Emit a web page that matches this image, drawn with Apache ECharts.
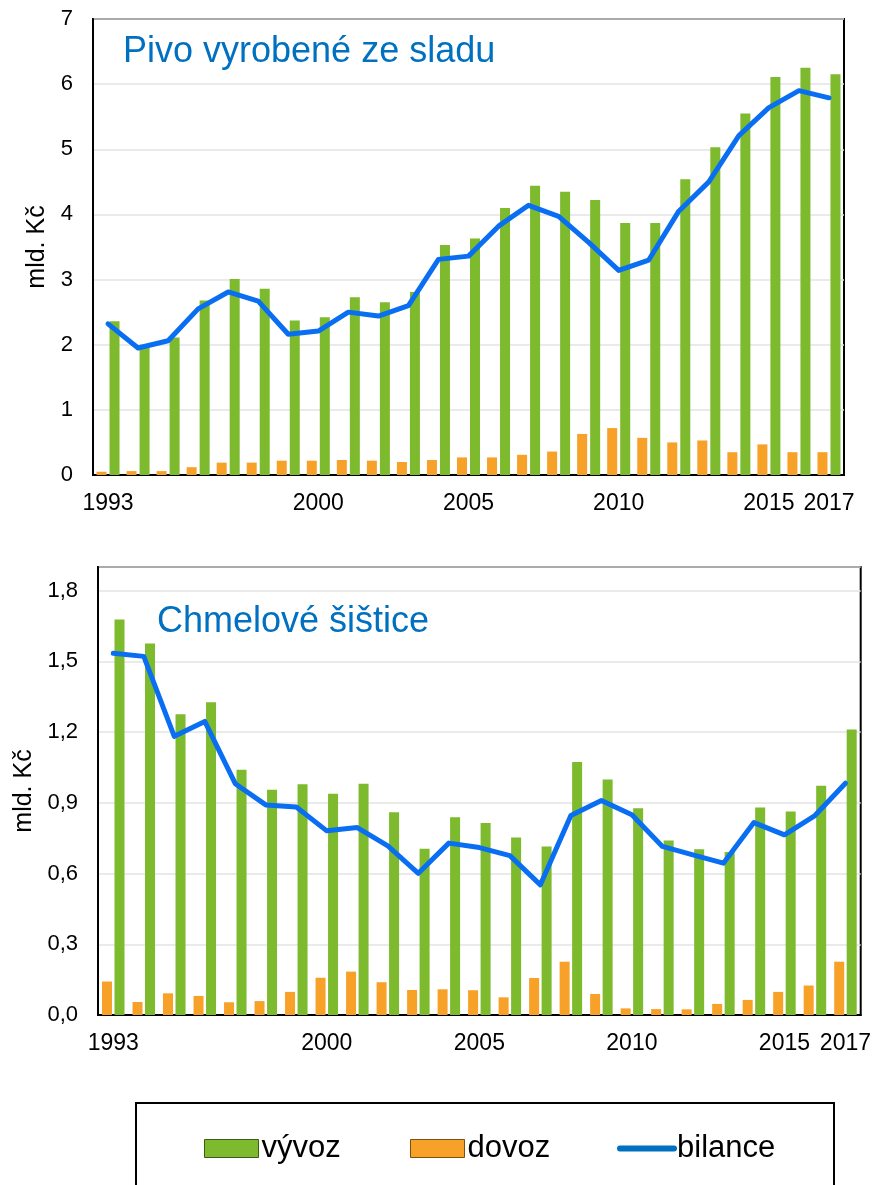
<!DOCTYPE html>
<html>
<head>
<meta charset="utf-8">
<script src="https://cdn.jsdelivr.net/npm/echarts@6/dist/echarts.min.js"></script>
<style>
  html, body { margin: 0; padding: 0; background: #fff; }
  #chart { width: 874px; height: 1185px; }
</style>
</head>
<body>
<div id="chart"></div>
<script>
var years = ['1993', '1994', '1995', '1996', '1997', '1998', '1999', '2000', '2001', '2002', '2003', '2004', '2005',
  '2006', '2007', '2008', '2009', '2010', '2011', '2012', '2013', '2014', '2015', '2016', '2017'];
var shownYears = ['1993', '2000', '2005', '2010', '2015', '2017'];

// Pivo vyrobené ze sladu (mld. Kč)
var pivoVyvoz = [2.36, 2.00, 2.11, 2.68, 3.01, 2.86, 2.37, 2.42, 2.73, 2.65, 2.81, 3.53, 3.63,
  4.10, 4.44, 4.35, 4.22, 3.87, 3.87, 4.54, 5.03, 5.55, 6.11, 6.25, 6.15];
var pivoDovoz = [0.05, 0.06, 0.06, 0.12, 0.19, 0.19, 0.22, 0.22, 0.23, 0.22, 0.20, 0.23, 0.27,
  0.27, 0.31, 0.36, 0.63, 0.72, 0.57, 0.50, 0.53, 0.35, 0.47, 0.35, 0.35];
var pivoBilance = [2.32, 1.95, 2.06, 2.55, 2.81, 2.67, 2.16, 2.21, 2.50, 2.44, 2.60, 3.31, 3.36,
  3.82, 4.14, 3.97, 3.57, 3.14, 3.30, 4.05, 4.50, 5.21, 5.64, 5.90, 5.79];

// Chmelové šištice (mld. Kč)
var chmelVyvoz = [1.677, 1.576, 1.276, 1.326, 1.040, 0.955, 0.979, 0.938, 0.981, 0.860, 0.705, 0.839, 0.814,
  0.753, 0.715, 1.073, 0.999, 0.877, 0.740, 0.703, 0.691, 0.880, 0.863, 0.972, 1.211];
var chmelDovoz = [0.142, 0.055, 0.092, 0.081, 0.054, 0.059, 0.098, 0.158, 0.184, 0.139, 0.106, 0.109, 0.105,
  0.075, 0.157, 0.226, 0.089, 0.028, 0.025, 0.024, 0.047, 0.064, 0.098, 0.125, 0.226];
var chmelBilance = [1.534, 1.521, 1.182, 1.245, 0.981, 0.891, 0.882, 0.781, 0.795, 0.717, 0.601, 0.729, 0.710,
  0.676, 0.552, 0.846, 0.910, 0.849, 0.715, 0.679, 0.644, 0.816, 0.764, 0.846, 0.983];

var titles = ['Pivo vyrobené ze sladu', 'Chmelové šištice'];
var legendNames = ['vývoz', 'dovoz', 'bilance'];

var FONT = 'Liberation Sans, Arial, sans-serif';
var GREEN = '#7DBA2D';
var ORANGE = '#F7A128';
var BLUE = '#0A6EF2';

function xAxisFor(idx) {
  return {
    type: 'category',
    gridIndex: idx,
    data: years,
    axisTick: { show: false },
    axisLine: { lineStyle: { color: '#000', width: 2 } },
    axisLabel: {
      interval: 0,
      margin: 17,
      color: '#000',
      fontFamily: FONT,
      fontSize: 23,
      formatter: function (v) { return shownYears.indexOf(v) >= 0 ? v : ''; }
    }
  };
}

function yAxisFor(idx, max, interval, decimals, gap) {
  return {
    type: 'value',
    gridIndex: idx,
    min: 0,
    max: max,
    interval: interval,
    name: 'mld. Kč',
    nameLocation: 'middle',
    nameGap: gap,
    nameRotate: 90,
    nameTextStyle: { color: '#000', fontFamily: FONT, fontSize: 25 },
    axisLine: { show: true, lineStyle: { color: '#000', width: 2 } },
    axisTick: { show: false },
    axisLabel: {
      margin: 20,
      color: '#000',
      fontFamily: FONT,
      fontSize: 22,
      formatter: function (v) {
        var k = Math.round(v / interval);
        if (Math.abs(k * interval - v) > 1e-6) return '';
        return v.toFixed(decimals).replace('.', ',');
      }
    },
    splitLine: { lineStyle: { color: '#e3e3e3', width: 1.5 } }
  };
}

function seriesFor(idx, vyvoz, dovoz, bilance, gap) {
  return [
    {
      name: 'dovoz', type: 'bar', xAxisIndex: idx, yAxisIndex: idx,
      data: dovoz, barWidth: 10, barGap: gap,
      itemStyle: { color: ORANGE }
    },
    {
      name: 'vývoz', type: 'bar', xAxisIndex: idx, yAxisIndex: idx,
      data: vyvoz, barWidth: 10, barGap: gap,
      itemStyle: { color: GREEN }
    },
    {
      name: 'bilance', type: 'line', xAxisIndex: idx, yAxisIndex: idx,
      data: bilance, symbol: 'none', z: 5,
      lineStyle: { color: BLUE, width: 5, cap: 'round', join: 'round' },
      itemStyle: { color: BLUE }
    }
  ];
}

// one legend per entry so each sits where the reference has it
function legendFor(item, left) {
  return {
    left: left,
    top: 1133,
    padding: 0,
    itemWidth: 54,
    itemHeight: 18,
    textStyle: { color: '#000', fontFamily: FONT, fontSize: 31, padding: [0, 0, 0, -2] },
    data: [item]
  };
}

var myChart = echarts.init(document.getElementById('chart'), null, { renderer: 'canvas' });

var option = {
  animation: false,
  backgroundColor: '#fff',
  title: [
    { text: titles[0], left: 118, top: 29, textStyle: { color: '#0070C0', fontFamily: FONT, fontSize: 36, fontWeight: 'normal' } },
    { text: titles[1], left: 152, top: 599, textStyle: { color: '#0070C0', fontFamily: FONT, fontSize: 36, fontWeight: 'normal' } }
  ],
  grid: [
    { left: 93, right: 30, top: 19, height: 456, show: true, borderColor: '#000', borderWidth: 2, backgroundColor: 'transparent' },
    { left: 98, right: 12, top: 567, height: 448, show: true, borderColor: '#000', borderWidth: 2, backgroundColor: 'transparent' }
  ],
  xAxis: [xAxisFor(0), xAxisFor(1)],
  yAxis: [yAxisFor(0, 7, 1, 0, 42), yAxisFor(1, 1.9, 0.3, 1, 61)],
  legend: [
    legendFor({ name: legendNames[0], icon: 'rect', itemStyle: { borderColor: '#3d5a17', borderWidth: 1 } }, 204),
    legendFor({ name: legendNames[1], icon: 'rect', itemStyle: { borderColor: '#7a5010', borderWidth: 1 } }, 410),
    legendFor({
      name: legendNames[2],
      itemStyle: { color: 'rgba(0,0,0,0)', opacity: 0, borderWidth: 0 },
      lineStyle: { color: '#0070C0', width: 6, cap: 'round' }
    }, 617)
  ],
  graphic: [
    {
      type: 'rect',
      shape: { x: 136, y: 1103, width: 698, height: 120 },
      style: { fill: 'none', stroke: '#000', lineWidth: 2 },
      silent: true
    }
  ],
  series: seriesFor(0, pivoVyvoz, pivoDovoz, pivoBilance, '30%')
    .concat(seriesFor(1, chmelVyvoz, chmelDovoz, chmelBilance, '25%'))
};

myChart.setOption(option);
</script>
</body>
</html>
